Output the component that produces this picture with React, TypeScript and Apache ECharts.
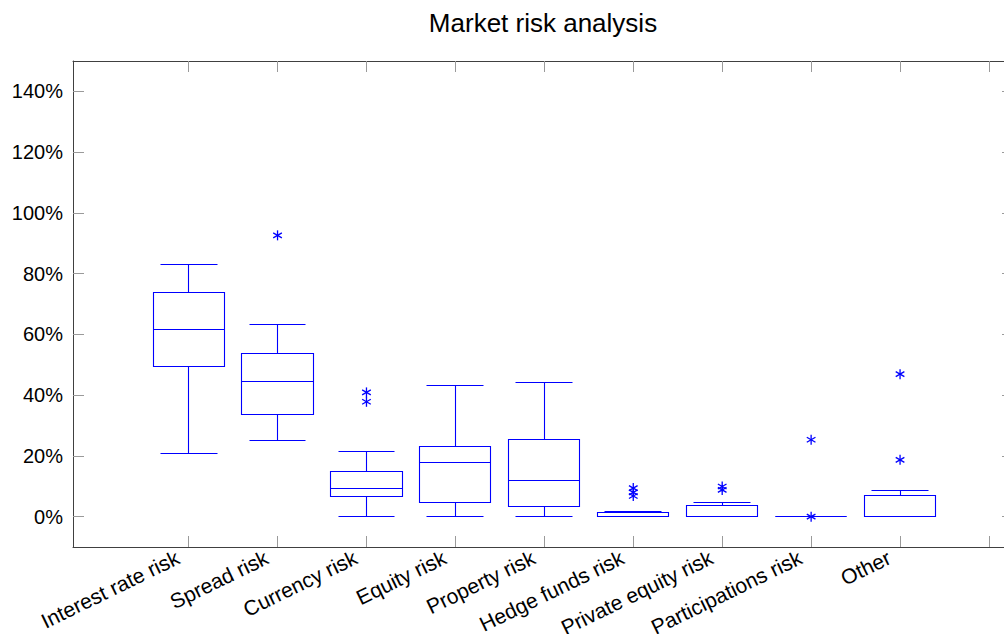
import React, { useEffect, useRef } from "react";
import * as echarts from "echarts";

const categories = [
  "Interest rate risk",
  "Spread risk",
  "Currency risk",
  "Equity risk",
  "Property risk",
  "Hedge funds risk",
  "Private equity risk",
  "Participations risk",
  "Other",
];
const lowerWhisker = [20.9, 24.9, 0, 0, 0, 0, 0, 0, 0];
const lowerQuartile = [49.3, 33.5, 6.7, 4.6, 3.4, 0, 0, 0, 0];
const medians = [61.7, 44.5, 9.3, 17.7, 12.0, 0, 0, 0, 0];
const upperQuartile = [73.7, 53.7, 14.7, 23.0, 25.5, 1.4, 3.5, 0, 7.1];
const upperWhisker = [83.1, 63.3, 21.5, 43.2, 44.2, 1.7, 4.5, 0, 8.6];
const outliers: number[][] = [
  [],
  [92.6],
  [40.9, 37.8],
  [],
  [],
  [9.4, 8.0, 6.8],
  [9.9, 8.8],
  [25.3, 0],
  [46.9, 18.7],
];
const yTicks = [0, 20, 40, 60, 80, 100, 120, 140];
const xTicks = [1, 2, 3, 4, 5, 6, 7, 8, 9, 10];
const xLabelPositions = [1, 2, 3, 4, 5, 6, 7, 8, 9];

const BLUE = "#0000ff";
const FONT = "Liberation Sans, Arial, Helvetica, sans-serif";

export default function App() {
  const ref = useRef<HTMLDivElement>(null);

  useEffect(() => {
    if (!ref.current) return;
    document.documentElement.style.overflow = "hidden";
    document.body.style.overflow = "hidden";
    document.body.style.margin = "0";
    const chart = echarts.init(ref.current, undefined, { renderer: "svg" });

    const boxData = categories.map((_, i) => [
      i + 1,
      lowerWhisker[i],
      lowerQuartile[i],
      medians[i],
      upperQuartile[i],
      upperWhisker[i],
    ]);
    const outlierData: number[][] = [];
    outliers.forEach((arr, i) => arr.forEach((v) => outlierData.push([i + 1, v])));

    const snap = (v: number) => Math.round(v - 0.5) + 0.5;

    const lineStyle = { stroke: BLUE, lineWidth: 1.1, fill: "none" };

    const axisLineStyle = { color: "#404040", width: 1 };
    const tickStyle = { color: "#9a9a9a", width: 1 };

    chart.setOption({
      animation: false,
      graphic: [
        {
          type: "text",
          x: 543,
          y: 23,
          style: {
            text: "Market risk analysis",
            fontSize: 26,
            fontFamily: FONT,
            fill: "#000",
            align: "center",
            verticalAlign: "middle",
          },
        },
      ],
      grid: {
        left: 73,
        top: 61,
        right: -9,
        bottom: 87,
        containLabel: false,
        outerBoundsMode: "none",
      },
      xAxis: [
        {
          type: "value",
          position: "bottom",
          min: -0.3,
          max: 10.27,
          splitLine: { show: false },
          axisLine: { show: true, onZero: false, lineStyle: axisLineStyle },
          axisTick: {
            show: true,
            inside: true,
            length: 11,
            customValues: xTicks,
            lineStyle: tickStyle,
          },
          axisLabel: {
            show: true,
            customValues: xLabelPositions,
            formatter: (v: number) => categories[Math.round(v) - 1] || "",
            rotate: 26,
            margin: 4,
            padding: [0, 12, 0, 0],
            fontSize: 21,
            fontFamily: FONT,
            color: "#000",
          },
        },
        {
          type: "value",
          position: "top",
          min: -0.3,
          max: 10.27,
          splitLine: { show: false },
          axisLine: { show: true, onZero: false, lineStyle: axisLineStyle },
          axisTick: {
            show: true,
            inside: true,
            length: 11,
            customValues: xTicks,
            lineStyle: tickStyle,
          },
          axisLabel: { show: false },
        },
      ],
      yAxis: [
        {
          type: "value",
          position: "left",
          min: -10,
          max: 150,
          splitLine: { show: false },
          axisLine: { show: true, onZero: false, lineStyle: axisLineStyle },
          axisTick: {
            show: true,
            inside: true,
            length: 11,
            customValues: yTicks,
            lineStyle: tickStyle,
          },
          axisLabel: {
            show: true,
            customValues: yTicks,
            formatter: (v: number) => `${v}%`,
            margin: 10,
            fontSize: 20,
            fontFamily: FONT,
            color: "#000",
          },
        },
        {
          type: "value",
          position: "right",
          min: -10,
          max: 150,
          splitLine: { show: false },
          axisLine: { show: true, onZero: false, lineStyle: axisLineStyle },
          axisTick: {
            show: true,
            inside: true,
            length: 11,
            customValues: yTicks,
            lineStyle: tickStyle,
          },
          axisLabel: { show: false },
        },
      ],
      series: [
        {
          type: "custom",
          name: "boxes",
          xAxisIndex: 0,
          yAxisIndex: 0,
          data: boxData,
          renderItem: (params: any, api: any) => {
            const x = api.value(0);
            const yLow = snap(api.coord([x, api.value(1)])[1]);
            const yQ1 = snap(api.coord([x, api.value(2)])[1]);
            const yMed = snap(api.coord([x, api.value(3)])[1]);
            const yQ3 = snap(api.coord([x, api.value(4)])[1]);
            const yHigh = snap(api.coord([x, api.value(5)])[1]);
            const xc = snap(api.coord([x, 0])[0]);
            const bl = snap(api.coord([x - 0.4, 0])[0]);
            const br = snap(api.coord([x + 0.4, 0])[0]);
            const wl = snap(api.coord([x - 0.32, 0])[0]);
            const wr = snap(api.coord([x + 0.32, 0])[0]);
            const line = (x1: number, y1: number, x2: number, y2: number) => ({
              type: "line",
              shape: { x1, y1, x2, y2 },
              style: lineStyle,
            });
            return {
              type: "group",
              children: [
                line(xc, yQ3, xc, yHigh),
                line(wl, yHigh, wr, yHigh),
                line(xc, yQ1, xc, yLow),
                line(wl, yLow, wr, yLow),
                {
                  type: "polygon",
                  shape: {
                    points: [
                      [bl, yQ3],
                      [br, yQ3],
                      [br, yQ1],
                      [bl, yQ1],
                    ],
                  },
                  style: lineStyle,
                },
                line(bl, yMed, br, yMed),
              ],
            };
          },
        },
        {
          type: "custom",
          name: "outliers",
          xAxisIndex: 0,
          yAxisIndex: 0,
          data: outlierData,
          renderItem: (params: any, api: any) => {
            const p = api.coord([api.value(0), api.value(1)]);
            const cx = p[0];
            const cy = p[1];
            const r = 5;
            const dx = r * Math.cos(Math.PI / 6);
            const dy = r * Math.sin(Math.PI / 6);
            const st = { stroke: BLUE, lineWidth: 1.3, fill: "none" };
            return {
              type: "group",
              children: [
                { type: "line", shape: { x1: cx, y1: cy - r, x2: cx, y2: cy + r }, style: st },
                { type: "line", shape: { x1: cx - dx, y1: cy - dy, x2: cx + dx, y2: cy + dy }, style: st },
                { type: "line", shape: { x1: cx - dx, y1: cy + dy, x2: cx + dx, y2: cy - dy }, style: st },
              ],
            };
          },
        },
      ],
    });

    return () => chart.dispose();
  }, []);

  return (
    <div
      ref={ref}
      style={{ position: "absolute", left: 0, top: 0, width: 1004, height: 634, overflow: "hidden" }}
    />
  );
}
